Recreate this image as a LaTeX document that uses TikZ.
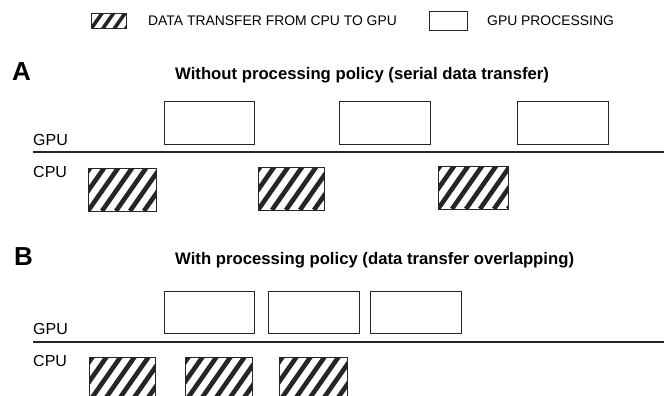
\documentclass[tikz,border=0pt]{standalone}
\usepackage{fontspec}
\setmainfont{Liberation Sans}
\begin{document}
\begin{tikzpicture}[x=1pt, y=-1pt,
  frame/.style={draw=black!85, line width=1pt, inner sep=0pt, outer sep=0pt, anchor=north west},
  gpubox/.style={frame, fill=white},
  cpubox/.style={frame, fill=white, path picture={
      \foreach \k in {-7,...,7}{
        \draw[line width=4.6pt] ([xshift=\k*14pt]path picture bounding box.south west) -- ++(49pt,70pt);
      }}},
  legendhatch/.style={frame, fill=white, path picture={
      \foreach \k in {-4,...,4}{
        \draw[line width=3.6pt] ([xshift=\k*11.5pt]path picture bounding box.south west) -- ++(14pt,20pt);
      }}},
  legendtext/.style={inner sep=0pt, anchor=base west, font=\fontsize{13.9}{16}\selectfont},
  unit/.style={inner sep=0pt, anchor=base west, font=\fontsize{16}{19}\selectfont},
  heading/.style={inner sep=0pt, anchor=base west, font=\bfseries\fontsize{16.7}{20}\selectfont},
  panel/.style={inner sep=0pt, anchor=base west, font=\bfseries\fontsize{26}{30}\selectfont},
  axis/.style={draw=black!85, line width=1.2pt}
]
\clip (0,0) rectangle (664,396);
\fill[white] (0,0) rectangle (664,396);

% legend
\node[legendhatch, minimum width=35pt, minimum height=15pt] (lgcpu) at (91,14) {};
\node[legendtext] (lgcputxt) at (148,26) {DATA TRANSFER FROM CPU TO GPU};
\node[gpubox, minimum width=38pt, minimum height=19pt] (lggpu) at (429,12) {};
\node[legendtext] (lggputxt) at (487,26) {GPU PROCESSING};

% panel A: serial data transfer
\node[panel] (pa) at (12,81) {A};
\node[heading] (ta) at (175,79) {Without processing policy (serial data transfer)};
\node[unit] (gpua) at (33,145) {GPU};
\node[unit] (cpua) at (33,177) {CPU};
\coordinate (la0) at (33,152);
\coordinate (la1) at (664,152);
\draw[axis] (la0) -- (la1);
\node[gpubox, minimum width=90pt, minimum height=43pt] (ga1) at (164,101) {};
\node[gpubox, minimum width=91pt, minimum height=43pt] (ga2) at (339,101) {};
\node[gpubox, minimum width=91pt, minimum height=43pt] (ga3) at (517,101) {};
\node[cpubox, minimum width=68pt, minimum height=43pt] (ca1) at (88,168) {};
\node[cpubox, minimum width=66pt, minimum height=43pt] (ca2) at (258,167) {};
\node[cpubox, minimum width=70pt, minimum height=43pt] (ca3) at (438,166) {};

% panel B: overlapping data transfer
\node[panel] (pb) at (14,265) {B};
\node[heading] (tb) at (175,264) {With processing policy (data transfer overlapping)};
\node[unit] (gpub) at (33,334) {GPU};
\node[unit] (cpub) at (33,366) {CPU};
\coordinate (lb0) at (33,342);
\coordinate (lb1) at (664,342);
\draw[axis] (lb0) -- (lb1);
\node[gpubox, minimum width=90pt, minimum height=42pt] (gb1) at (164,291) {};
\node[gpubox, minimum width=91pt, minimum height=42pt] (gb2) at (268,291) {};
\node[gpubox, minimum width=91pt, minimum height=42pt] (gb3) at (370,291) {};
\node[cpubox, minimum width=66pt, minimum height=45pt] (cb1) at (89,357) {};
\node[cpubox, minimum width=67pt, minimum height=45pt] (cb2) at (185,357) {};
\node[cpubox, minimum width=68pt, minimum height=45pt] (cb3) at (279,357) {};
\end{tikzpicture}
\end{document}
